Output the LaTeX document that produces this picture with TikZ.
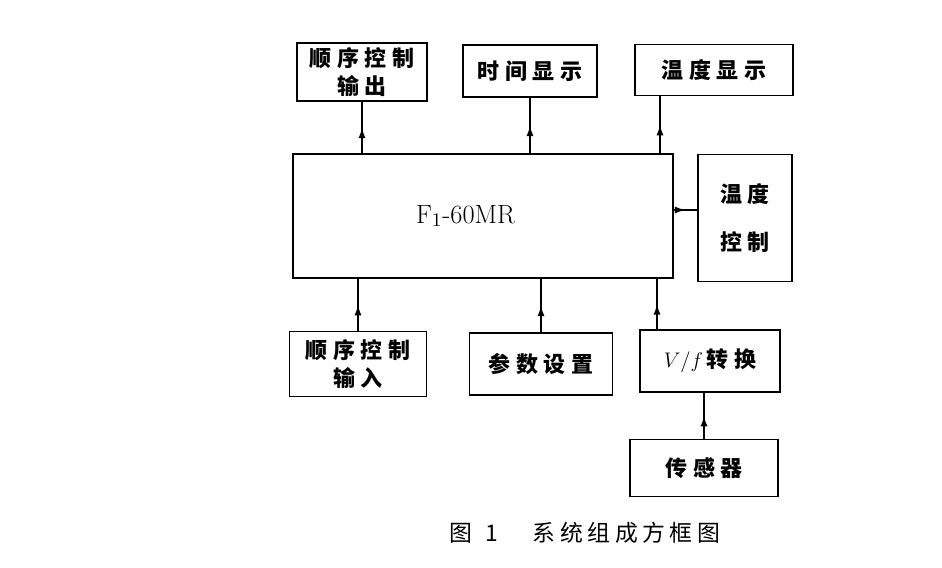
\documentclass[tikz,border=0pt]{standalone}
\usepackage{fontspec}
\newfontfamily\cjk{Noto Sans CJK SC}[LetterSpace=25]
\newfontfamily\cjkcap{Noto Sans CJK SC}[LetterSpace=20]
\usepackage{tikz}
\usetikzlibrary{arrows.meta,positioning,decorations.markings,calc}
\tikzset{
    sysbox/.style={draw, line width=1pt, align=center, inner sep=0pt, font=\cjk\bfseries\fontsize{12.5}{15.5}\selectfont},
    sysarrow/.style={line width=1pt, postaction={decorate},
        decoration={markings, mark=at position 0.5 with {\arrow{Latex[length=6pt,width=4pt]}}}}
}

\begin{document}
\begin{tikzpicture}[x=0.2mm, y=-0.2mm]
        \useasboundingbox (0,0) rectangle (942,568);

        \node[sysbox, minimum width=26mm, minimum height=11.6mm] (seqout) at (362,72) {顺序控制\\输出};
        \node[sysbox, minimum width=26.8mm, minimum height=10.4mm] (timeshow) at (530,71) {时间显示};
        \node[sysbox, minimum width=31.6mm, minimum height=10.2mm] (tempshow) at (714,70) {温度显示};
        \node[sysbox, minimum width=76mm, minimum height=24.8mm, font=\fontsize{15}{17}\selectfont] (main) at (483,216) {F$_1$-60MR\hspace{7mm}};
        \node[sysbox, minimum width=18.8mm, minimum height=25.4mm] (tempctrl) at (745,218) {温度\\[4mm]控制};
        \node[sysbox, minimum width=27.4mm, minimum height=13mm] (seqin) at (358,364) {顺序控制\\输入};
        \node[sysbox, minimum width=28.6mm, minimum height=12.4mm] (paramset) at (541,364) {参数设置};
        \node[sysbox, minimum width=28mm, minimum height=12.4mm] (vfconv) at (710,361) {$V/f$\,转换};
        \node[sysbox, minimum width=29.6mm, minimum height=11.4mm] (sensor) at (704,468) {传感器};
        \node[font=\cjkcap\fontsize{13}{15}\selectfont] (caption) at (585,533) {图\hspace{2.5mm}1\hspace{7mm}系统组成方框图};

        \coordinate (ttap) at ($(tempshow.south)+(-54,0)$);
        \coordinate (vtap) at ($(vfconv.north)+(-53,0)$);
        \coordinate (rtap) at ($(main.east)+(0,-6)$);

        \draw[sysarrow] (seqout.south |- main.north) -- (seqout.south);
        \draw[sysarrow] (timeshow.south |- main.north) -- (timeshow.south);
        \draw[sysarrow] (ttap |- main.north) -- (ttap);
        \draw[sysarrow] (rtap) -- (rtap -| tempctrl.west);
        \draw[sysarrow] (seqin.north) -- (seqin.north |- main.south);
        \draw[sysarrow] (paramset.north) -- (paramset.north |- main.south);
        \draw[sysarrow] (vtap) -- (vtap |- main.south);
        \draw[sysarrow] (sensor.north) -- (sensor.north |- vfconv.south);
    \end{tikzpicture}
\end{document}
